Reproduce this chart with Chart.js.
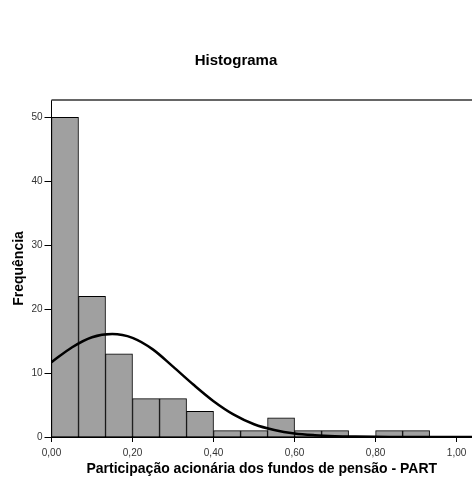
<!DOCTYPE html>
<html>
<head>
<meta charset="utf-8">
<script src="https://cdn.jsdelivr.net/npm/chart.js@4"></script>
<style>
  html, body { margin: 0; padding: 0; background: #fff; }
  #wrap { width: 472px; height: 479px; }
</style>
</head>
<body>
<div id="wrap"><canvas id="myChart" width="472" height="479"></canvas></div>
<script>
// Histogram bins (PART), width 1/15
const binStarts = [0, 0.0667, 0.1333, 0.2, 0.2667, 0.3333, 0.4, 0.4667, 0.5333, 0.6, 0.6667, 0.7333, 0.8, 0.8667];
const binWidth = 0.0667;
const frequencies = [50, 22, 13, 6, 6, 4, 1, 1, 3, 1, 1, 0, 1, 1];

// Normal curve
const curveX = [0, 0.05, 0.10, 0.15, 0.20, 0.25, 0.30, 0.35, 0.40, 0.45, 0.50, 0.55, 0.60, 0.65, 0.70, 0.75, 0.80, 0.85, 0.90, 0.95, 1.00, 1.04];
const curveY = [11.7, 14.0, 15.6, 16.1, 15.5, 13.7, 11.0, 8.2, 5.6, 3.5, 2.0, 1.1, 0.55, 0.28, 0.13, 0.06, 0.02, 0.01, 0, 0, 0, 0];

const xTicks = [0, 0.2, 0.4, 0.6, 0.8, 1.0];
const yTicks = [0, 10, 20, 30, 40, 50];

const fmt = v => v.toFixed(2).replace('.', ',');

const bars = binStarts.map((s, i) => ({ x: s + binWidth / 2, y: frequencies[i] }));
const curve = curveX.map((x, i) => ({ x: x, y: curveY[i] }));

// top frame line
const frameTop = {
    id: 'frameTop',
    afterDraw(chart) {
        const { ctx, chartArea } = chart;
        ctx.save();
        ctx.strokeStyle = '#666666';
        ctx.lineWidth = 2;
        ctx.beginPath();
        ctx.moveTo(chartArea.left, chartArea.top);
        ctx.lineTo(chart.width, chartArea.top);
        ctx.stroke();
        ctx.restore();
    }
};

const config = {
    data: {
        datasets: [{
            type: 'line',
            data: curve,
            borderColor: '#000000',
            borderWidth: 2.5,
            pointRadius: 0,
            cubicInterpolationMode: 'monotone',
            fill: false,
            order: 0
        }, {
            type: 'bar',
            data: bars,
            backgroundColor: '#a0a0a0',
            borderColor: '#000000',
            borderWidth: 1,
            barPercentage: 1,
            categoryPercentage: 1,
            order: 1
        }]
    },
    options: {
        responsive: false,
        animation: false,
        layout: { padding: 0 },
        plugins: {
            legend: { display: false },
            tooltip: { enabled: false },
            title: {
                display: true,
                text: 'Histograma',
                color: '#000',
                font: { family: 'Liberation Sans', size: 15, weight: 'bold', lineHeight: 1.2 },
                padding: { top: 52, bottom: 30 }
            }
        },
        scales: {
            x: {
                type: 'linear',
                offset: false,
                min: 0,
                max: 1.038,
                afterBuildTicks: s => { s.ticks = xTicks.map(v => ({ value: v })); },
                afterFit: s => { s.height = 42; },
                ticks: {
                    color: '#333',
                    font: { family: 'Liberation Sans', size: 10 },
                    padding: 5,
                    callback: v => fmt(v)
                },
                grid: { offset: false, drawOnChartArea: false, drawTicks: true, tickLength: 5, color: '#000', tickWidth: 1 },
                border: { color: '#000', width: 2 },
                title: {
                    display: true,
                    text: 'Participação acionária dos fundos de pensão - PART',
                    color: '#000',
                    font: { family: 'Liberation Sans', size: 14, weight: 'bold', lineHeight: 1.2 },
                    padding: { top: 0, bottom: 1 }
                }
            },
            y: {
                min: 0,
                max: 52.7,
                afterBuildTicks: s => { s.ticks = yTicks.map(v => ({ value: v })); },
                afterFit: s => { s.width = 51.5; },
                ticks: {
                    color: '#333',
                    font: { family: 'Liberation Sans', size: 10 },
                    padding: 2
                },
                grid: { drawOnChartArea: false, drawTicks: true, tickLength: 7, color: '#000', tickWidth: 1 },
                border: { color: '#000', width: 1 },
                title: {
                    display: true,
                    text: 'Frequência',
                    color: '#000',
                    font: { family: 'Liberation Sans', size: 14, weight: 'bold', lineHeight: 1.2 },
                    padding: { top: 10.5, bottom: 0 }
                }
            }
        }
    },
    plugins: [frameTop]
};

const histChart = new Chart(document.getElementById('myChart'), config);
</script>
</body>
</html>
